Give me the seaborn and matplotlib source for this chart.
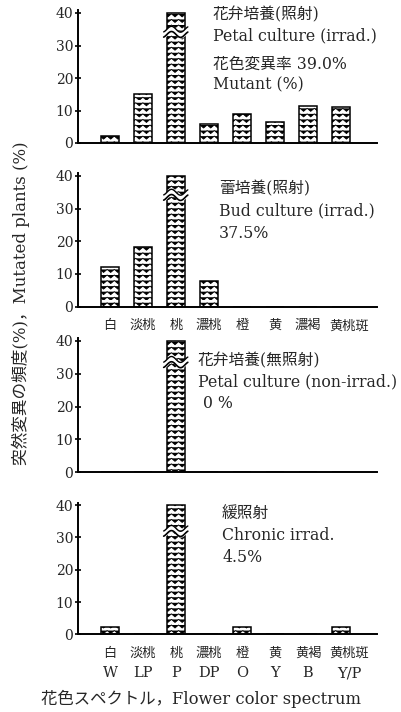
import warnings
import numpy as np
import pandas as pd
import matplotlib
matplotlib.use("Agg")
import matplotlib.pyplot as plt
from matplotlib import hatch as mhatch
from matplotlib.path import Path
from matplotlib.transforms import ScaledTranslation
import seaborn as sns

warnings.filterwarnings("ignore")

sns.set_theme(style="white")
FONT = ['DejaVu Serif', 'Noto Sans CJK JP']
plt.rcParams['font.family'] = FONT
plt.rcParams['hatch.linewidth'] = 0.6
plt.rcParams['hatch.color'] = 'black'


class ZigZagHatch(mhatch.HatchPatternBase):
    """Stacked wavy rows, drawn by the 'z' hatch character."""
    def __init__(self, hatch, density):
        self.num_rows = hatch.count('z') * 6
        self.pts = 2 * 14 + 1
        self.num_vertices = self.num_rows * self.pts

    def set_vertices_and_codes(self, vertices, codes):
        if self.num_rows == 0:
            return
        steps, step = np.linspace(0, 1, self.num_rows, False, retstep=True)
        steps += step / 2
        xs = np.linspace(0, 1, self.pts)
        bump = np.where(np.arange(self.pts) % 2 == 0, 0.0, -0.03)
        for r, y in enumerate(steps):
            sl = slice(r * self.pts, (r + 1) * self.pts)
            vertices[sl, 0] = xs
            vertices[sl, 1] = y + bump
            codes[sl] = Path.LINETO
            codes[r * self.pts] = Path.MOVETO


mhatch._hatch_types.append(ZigZagHatch)

codes = ["W", "LP", "P", "DP", "O", "Y", "B", "Y/P"]
jp_labels_top = ["白", "淡桃", "桃", "濃桃", "橙", "黄", "濃褐", "黄桃斑"]
jp_labels_bottom = ["白", "淡桃", "桃", "濃桃", "橙", "黄", "黄褐", "黄桃斑"]

petal_irrad = [2.2, 15.0, 40.0, 6.0, 8.9, 6.5, 11.4, 11.2]
bud_irrad = [12.2, 18.3, 40.0, 7.9, 0, 0, 0, 0]
petal_nonirrad = [0, 0, 40.0, 0, 0, 0, 0, 0]
chronic_irrad = [2.3, 0, 40.0, 0, 2.4, 0, 0, 2.3]
break_values = [34.2, 34.2, 33.5, 32.0]

panel_texts = [
    ["花弁培養(照射)", "Petal culture (irrad.)", "花色変異率 39.0%", "Mutant (%)"],
    ["蕾培養(照射)", "Bud culture (irrad.)", "37.5%"],
    ["花弁培養(無照射)", "Petal culture (non-irrad.)", " 0 %"],
    ["緩照射", "Chronic irrad.", "4.5%"],
]
series = [petal_irrad, bud_irrad, petal_nonirrad, chronic_irrad]

W, H = 401, 712
fig = plt.figure(figsize=(W / 100, H / 100), dpi=100)

zero_px = [143, 306.7, 472.3, 634.3]
ppu = [3.25, 3.27, 3.29, 3.23]
text_pos = [
    (213, [15, 36, 64, 85]),
    (219, [189, 211, 233]),
    (198, [361, 382, 403]),
    (222, [514, 536, 557]),
]
left_px, right_px = 78, 377
ymax = 40.8
TXT = "#262626"


def shift_last(labels):
    lbl = labels[-1]
    lbl.set_transform(lbl.get_transform() +
                      ScaledTranslation(6 / 72, 0, fig.dpi_scale_trans))


for i, vals in enumerate(series):
    bottom = 1 - zero_px[i] / H
    height = ymax * ppu[i] / H
    ax = fig.add_axes([left_px / W, bottom, (right_px - left_px) / W, height])
    df = pd.DataFrame({"code": codes, "value": vals})
    sns.barplot(data=df, x="code", y="value", order=codes, ax=ax,
                color="white", edgecolor="black", linewidth=1.1,
                width=0.55, hatch="zzz", saturation=1)
    ax.set_xlim(-0.97, 8.09)
    ax.set_ylim(0, ymax)
    ax.set_yticks([0, 10, 20, 30, 40])
    ax.tick_params(axis="y", direction="inout", length=5, width=1.2,
                   labelsize=10, pad=1, left=True, color="black",
                   labelcolor=TXT)
    ax.set_xlabel("")
    ax.set_ylabel("")
    for s in ["top", "right"]:
        ax.spines[s].set_visible(False)
    for s in ["left", "bottom"]:
        ax.spines[s].set_color("black")
        ax.spines[s].set_linewidth(1.4)
    ax.set_facecolor("white")

    if i in (1, 3):
        jp = jp_labels_top if i == 1 else jp_labels_bottom
        ax.set_xticks(range(len(codes)))
        ax.set_xticklabels(jp, fontsize=9.5, color=TXT)
        ax.tick_params(axis="x", which="major", length=0, pad=9)
        shift_last(ax.get_xticklabels())
        if i == 3:
            ax.xaxis.remove_overlapping_locs = False
            ax.set_xticks(range(len(codes)), minor=True)
            ax.set_xticklabels(codes, minor=True, fontsize=10.5, color=TXT)
            ax.tick_params(axis="x", which="minor", length=0, pad=23)
            shift_last(ax.get_xticklabels(minor=True))
    else:
        ax.set_xticks([])

    # break mark on the truncated bar
    p = ax.patches[2]
    x0, w = p.get_x(), p.get_width()
    bv = break_values[i]
    xs = np.linspace(x0 - 0.18 * w, x0 + w + 0.15 * w, 60)
    wave = 0.9 * np.sin((xs - x0) / w * 2 * np.pi)
    ax.fill_between(xs, bv - 0.8 + wave, bv + 0.8 + wave, color="white", zorder=5)
    ax.plot(xs, bv - 0.8 + wave, color="black", lw=1.2, zorder=6)
    ax.plot(xs, bv + 0.8 + wave, color="black", lw=1.0, zorder=6)

    tx, tys = text_pos[i]
    for t, ty in zip(panel_texts[i], tys):
        fig.text(tx / W, 1 - ty / H, t, fontsize=11.3, va="center", ha="left",
                 color=TXT)

fig.text(21 / W, 1 - 303 / H, "突然変異の頻度(%)，Mutated plants (%)",
         rotation=90, fontsize=12, va="center", ha="center", color=TXT)
fig.text(201 / W, 1 - 699 / H, "花色スペクトル，Flower color spectrum",
         fontsize=11.8, va="center", ha="center", color=TXT)

fig.savefig("out.png", dpi=100, facecolor="white")
